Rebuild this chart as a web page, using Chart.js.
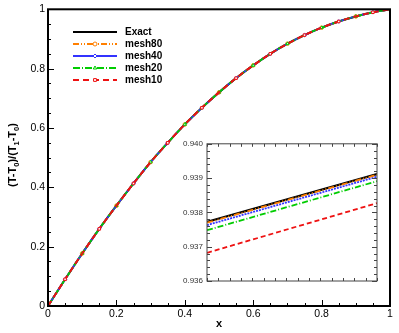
<!DOCTYPE html>
<html>
<head>
<meta charset="utf-8">
<script src="https://cdn.jsdelivr.net/npm/chart.js@4"></script>
<style>
  html, body { margin: 0; padding: 0; background: #fff; }
  #wrap { position: relative; width: 399px; height: 333px; }
  #mainChart { position: absolute; left: 0; top: 0; }
  #insetChart { position: absolute; left: 178px; top: 135px; }
</style>
</head>
<body>
<div id="wrap">
  <canvas id="mainChart" width="399" height="333"></canvas>
  <canvas id="insetChart" width="217" height="160"></canvas>
</div>
<script>
// main plot: x positions and dimensionless temperature (all meshes overlap at this scale)
const xValues = [0, 0.05, 0.1, 0.15, 0.2, 0.25, 0.3, 0.35, 0.4, 0.45, 0.5,
                 0.55, 0.6, 0.65, 0.7, 0.75, 0.8, 0.85, 0.9, 0.95, 1];
const exactT  = [0, 0.09, 0.177, 0.26, 0.338, 0.413, 0.485, 0.55, 0.612, 0.668, 0.72,
                 0.768, 0.811, 0.85, 0.884, 0.913, 0.938, 0.959, 0.976, 0.99, 1];

// zoomed inset: end points of each series across the window
const insetX      = [0.7985, 0.8015];
const insetExact  = [0.93772, 0.93912];
const insetMesh80 = [0.93770, 0.93910];
const insetMesh40 = [0.93763, 0.93904];
const insetMesh20 = [0.93748, 0.93891];
const insetMesh10 = [0.93682, 0.93827];

const seriesNames = ['Exact', 'mesh80', 'mesh40', 'mesh20', 'mesh10'];

Chart.defaults.font.family = "'Liberation Sans', Arial, sans-serif";
Chart.defaults.color = '#000';

const toXY = (xs, ys) => xs.map((x, i) => ({ x, y: ys[i] }));

const styles = {
    Exact:  { color: '#000000', dash: [],                 point: false,      width: 2 },
    mesh80: { color: '#ff7f00', dash: [6, 2, 1, 2, 1, 2], point: 'circle',   width: 1.8 },
    mesh40: { color: '#3333ff', dash: [],                 point: 'rectRot',  width: 1.8 },
    mesh20: { color: '#00cc00', dash: [7, 2, 1, 2],       point: 'triangle', width: 1.8 },
    mesh10: { color: '#ee1111', dash: [6, 4],             point: 'rect',     width: 2 }
};

const isMajor = (v, step) => Math.abs(v / step - Math.round(v / step)) < 1e-6;

// frame + inward ticks
const makeFrame = (cfg) => ({
    id: 'frame',
    afterDraw(chart) {
        const { ctx, chartArea: a, scales } = chart;
        ctx.save();
        ctx.strokeStyle = cfg.color;
        ctx.lineWidth = cfg.tickWidth;
        ctx.beginPath();
        scales.x.ticks.forEach(t => {
            const px = Math.round(scales.x.getPixelForValue(t.value)) + 0.5;
            const len = isMajor(t.value, cfg.xMajor) ? cfg.majorLen : cfg.minorLen;
            ctx.moveTo(px, a.bottom); ctx.lineTo(px, a.bottom - len);
            if (cfg.mirror) { ctx.moveTo(px, a.top); ctx.lineTo(px, a.top + len); }
        });
        scales.y.ticks.forEach(t => {
            const py = Math.round(scales.y.getPixelForValue(t.value)) + 0.5;
            const len = isMajor(t.value, cfg.yMajor) ? cfg.majorLen : cfg.minorLen;
            ctx.moveTo(a.left, py); ctx.lineTo(a.left + len, py);
            if (cfg.mirror) { ctx.moveTo(a.right, py); ctx.lineTo(a.right - len, py); }
        });
        ctx.stroke();
        ctx.lineWidth = cfg.borderWidth;
        ctx.strokeRect(a.left, a.top, a.width, a.height);
        ctx.restore();
    }
});

const legendPlugin = {
    id: 'curveLegend',
    afterDraw(chart) {
        const { ctx } = chart;
        ctx.save();
        ctx.font = "bold 10px 'Liberation Sans', Arial, sans-serif";
        ctx.textBaseline = 'middle';
        seriesNames.forEach((name, i) => {
            const s = styles[name];
            const y = 32 + i * 12;
            ctx.strokeStyle = s.color;
            ctx.lineWidth = s.width;
            ctx.setLineDash(s.dash);
            ctx.beginPath();
            ctx.moveTo(73, y); ctx.lineTo(117, y);
            ctx.stroke();
            ctx.setLineDash([]);
            if (s.point) {
                ctx.fillStyle = '#fff';
                ctx.lineWidth = 1;
                Chart.helpers.drawPoint(ctx, { pointStyle: s.point, radius: 2, borderWidth: 1, rotation: 0 }, 95, y);
            }
            ctx.fillStyle = '#000';
            ctx.fillText(name, 125, y + 0.5);
        });
        ctx.restore();
    }
};

const titlePlugin = {
    id: 'axisTitles',
    afterDraw(chart) {
        const { ctx, chartArea: a } = chart;
        ctx.save();
        ctx.fillStyle = '#000';
        ctx.font = "bold 11px 'Liberation Sans', Arial, sans-serif";
        ctx.textAlign = 'center';
        ctx.textBaseline = 'middle';
        ctx.fillText('x', (a.left + a.right) / 2, 324);

        const parts = [['(T-T', false], ['0', true], [')/(T', false], ['1', true], ['-T', false], ['0', true], [')', false]];
        const big = "bold 11px 'Liberation Sans', Arial, sans-serif";
        const small = "bold 7.5px 'Liberation Sans', Arial, sans-serif";
        let total = 0;
        parts.forEach(([t, sub]) => { ctx.font = sub ? small : big; total += ctx.measureText(t).width; });
        ctx.translate(16, 155);
        ctx.rotate(-Math.PI / 2);
        ctx.textAlign = 'left';
        ctx.textBaseline = 'alphabetic';
        let u = -total / 2;
        parts.forEach(([t, sub]) => {
            ctx.font = sub ? small : big;
            ctx.fillText(t, u, sub ? 2.5 : 0);
            u += ctx.measureText(t).width;
        });
        ctx.restore();
    }
};

const mainDatasets = seriesNames.map((name, i) => {
    const s = styles[name];
    return {
        label: name,
        data: toXY(xValues, exactT),
        borderColor: s.color,
        borderWidth: s.width,
        borderDash: s.dash,
        cubicInterpolationMode: 'monotone',
        pointStyle: s.point || 'circle',
        pointRadius: s.point ? (c) => ((c.dataIndex + i) % 2 === 1 ? 1.8 : 0) : 0,
        pointBorderWidth: 1,
        pointBorderColor: s.color,
        pointBackgroundColor: '#fff',
        order: seriesNames.length - 1 - i,
        fill: false
    };
});

new Chart(document.getElementById('mainChart'), {
    type: 'line',
    data: { datasets: mainDatasets },
    options: {
        responsive: false,
        animation: false,
        events: [],
        layout: { padding: { top: 7, right: 9, left: 0, bottom: 0 } },
        plugins: { legend: { display: false }, tooltip: { enabled: false } },
        scales: {
            x: {
                type: 'linear', min: 0, max: 1,
                grid: { display: false, drawTicks: false },
                border: { display: false },
                ticks: {
                    stepSize: 0.05, autoSkip: false, maxRotation: 0, padding: 2,
                    font: { size: 10.5 },
                    callback: (v) => isMajor(v, 0.2) ? String(Math.round(v * 10) / 10) : ''
                },
                afterFit: (s) => { s.height = 27; }
            },
            y: {
                type: 'linear', min: 0, max: 1,
                grid: { display: false, drawTicks: false },
                border: { display: false },
                ticks: {
                    stepSize: 0.05, autoSkip: false, padding: 3,
                    font: { size: 10.5 },
                    callback: (v) => isMajor(v, 0.2) ? String(Math.round(v * 10) / 10) : ''
                },
                afterFit: (s) => { s.width = 48; }
            }
        }
    },
    plugins: [makeFrame({ color: '#000', tickWidth: 1, borderWidth: 2, majorLen: 6, minorLen: 3, xMajor: 0.2, yMajor: 0.2, mirror: false }),
              legendPlugin, titlePlugin]
});

// --- INSET ---
const insetSeries = { Exact: insetExact, mesh80: insetMesh80, mesh40: insetMesh40, mesh20: insetMesh20, mesh10: insetMesh10 };
const insetDash = { Exact: [], mesh80: [6, 2, 1, 2, 1, 2], mesh40: [2, 1], mesh20: [6, 2, 1, 2], mesh10: [5, 3] };

const insetBg = {
    id: 'insetBg',
    beforeDraw(chart) {
        const { ctx, chartArea: a } = chart;
        ctx.save();
        ctx.fillStyle = '#fff';
        ctx.fillRect(a.left, a.top, a.width, a.height);
        ctx.restore();
    }
};

new Chart(document.getElementById('insetChart'), {
    type: 'line',
    data: {
        datasets: seriesNames.map((name, i) => ({
            label: name,
            data: toXY(insetX, insetSeries[name]),
            borderColor: styles[name].color,
            borderWidth: name === 'Exact' ? 2.2 : 1.8,
            borderDash: insetDash[name],
            pointRadius: 0,
            order: i === 0 ? 2 : i,
            fill: false
        }))
    },
    options: {
        responsive: false,
        animation: false,
        events: [],
        layout: { padding: { top: 8, right: 18, left: 0, bottom: 0 } },
        plugins: { legend: { display: false }, tooltip: { enabled: false } },
        scales: {
            x: {
                type: 'linear', min: 0.7985, max: 0.8015,
                grid: { display: false, drawTicks: false },
                border: { display: false },
                ticks: {
                    stepSize: 0.0002, autoSkip: false, maxRotation: 0, padding: 2,
                    color: '#333', font: { size: 8 },
                    callback: (v) => isMajor(v, 0.001) && v > 0.7986 && v < 0.8014 ? String(parseFloat(v.toFixed(3))) : ''
                },
                afterFit: (s) => { s.height = 14; }
            },
            y: {
                type: 'linear', min: 0.936, max: 0.940,
                grid: { display: false, drawTicks: false },
                border: { display: false },
                ticks: {
                    stepSize: 0.0002, autoSkip: false, padding: 4,
                    color: '#333', font: { size: 8 },
                    callback: (v) => isMajor(v, 0.001) ? v.toFixed(3) : ''
                },
                afterFit: (s) => { s.width = 29; }
            }
        }
    },
    plugins: [insetBg, makeFrame({ color: '#444', tickWidth: 1, borderWidth: 1, majorLen: 5, minorLen: 3, xMajor: 0.001, yMajor: 0.001, mirror: true })]
});
</script>
</body>
</html>
